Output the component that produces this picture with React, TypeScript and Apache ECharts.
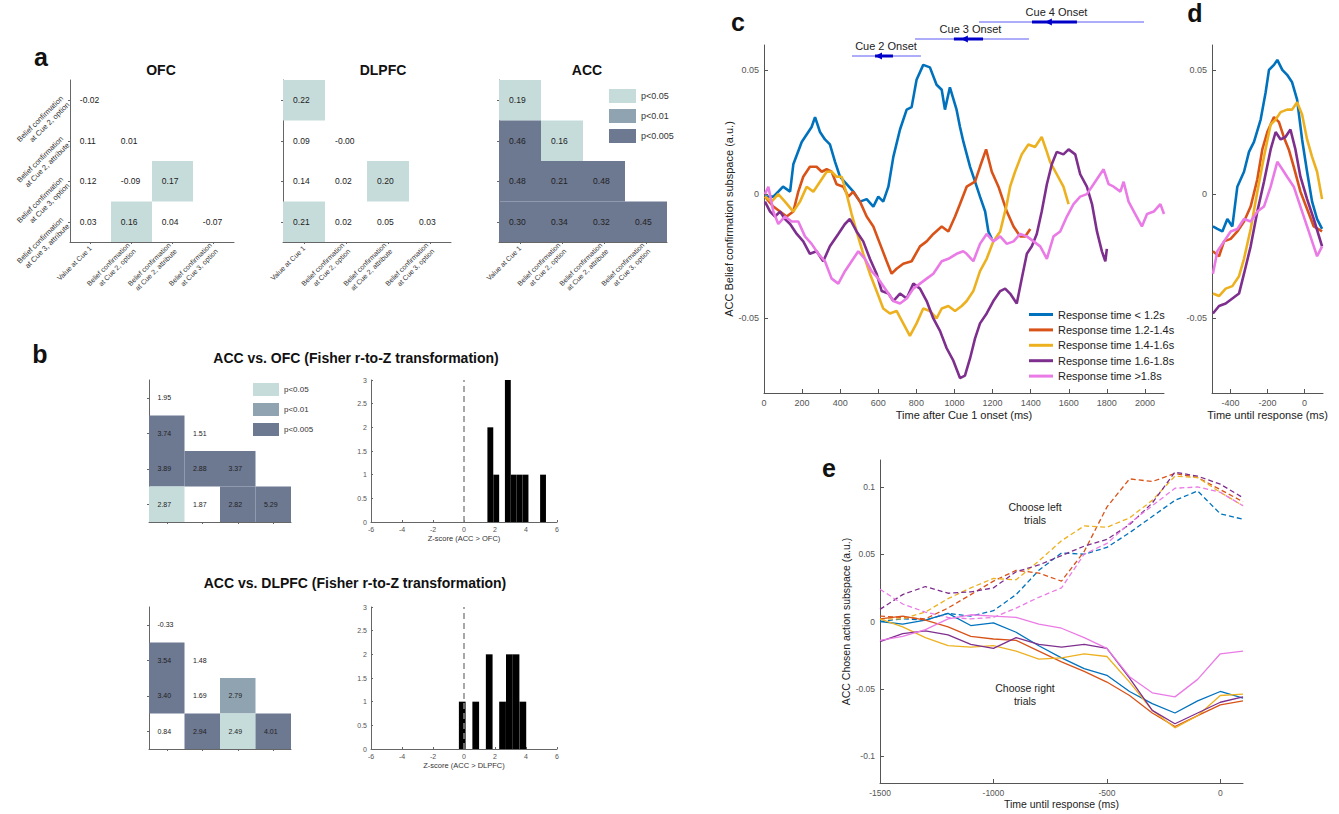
import React, { useEffect, useRef } from 'react';
import * as echarts from 'echarts';

const FONT = "'Liberation Sans', Arial, Helvetica, sans-serif";
const LINE_COLORS = ['#0072BD', '#D95319', '#EDB120', '#7E2F8E', '#EA7BE6'];
const SIG_COLORS = ['none', '#c6dcdb', '#8fa4b0', '#6d7891'];
const SIG_LABELS = ['p<0.05', 'p<0.01', 'p<0.005'];

// ---------- panel a / b heatmaps ----------
const heatXCats = ['Value at Cue 1', 'Belief confirmation\nat Cue 2, option', 'Belief confirmation\nat Cue 2, attribute', 'Belief confirmation\nat Cue 3, option'];
const heatYCats = ['Belief confirmation\nat Cue 2, option', 'Belief confirmation\nat Cue 2, attribute', 'Belief confirmation\nat Cue 3, option', 'Belief confirmation\nat Cue 3, attribute'];

const ofcValues = [[-0.02], [0.11, 0.01], [0.12, -0.09, 0.17], [0.03, 0.16, 0.04, -0.07]];
const ofcSig = [[0], [0, 0], [0, 0, 1], [0, 1, 0, 0]];
const dlpfcValues = [[0.22], [0.09, -0.004], [0.14, 0.02, 0.2], [0.21, 0.02, 0.05, 0.03]];
const dlpfcSig = [[1], [0, 0], [0, 0, 1], [1, 0, 0, 0]];
const accValues = [[0.19], [0.46, 0.16], [0.48, 0.21, 0.48], [0.3, 0.34, 0.32, 0.45]];
const accSig = [[1], [3, 1], [3, 3, 3], [3, 3, 3, 3]];

const zOfcValues = [[1.95], [3.74, 1.51], [3.89, 2.88, 3.37], [2.87, 1.87, 2.82, 5.29]];
const zOfcSig = [[0], [3, 0], [3, 3, 3], [1, 0, 3, 3]];
const zDlValues = [[-0.33], [3.54, 1.48], [3.4, 1.69, 2.79], [0.84, 2.94, 2.49, 4.01]];
const zDlSig = [[0], [3, 0], [3, 0, 2], [0, 3, 1, 3]];

// ---------- panel b histograms ----------
const histOfcLeft = [1.51, 1.89, 2.27, 2.64, 3.02, 3.4, 3.78, 4.16, 4.53, 4.91];
const histOfcCounts = [2, 1, 0, 3, 1, 1, 1, 0, 0, 1];
const histOfcBinWidth = 0.378;
const histDlLeft = [-0.33, 0.1, 0.54, 0.97, 1.41, 1.84, 2.27, 2.71, 3.14, 3.58];
const histDlCounts = [1, 0, 1, 0, 2, 0, 1, 2, 2, 1];
const histDlBinWidth = 0.434;

// ---------- panel c ----------
const cNames = ['Response time < 1.2s', 'Response time 1.2-1.4s', 'Response time 1.4-1.6s', 'Response time 1.6-1.8s', 'Response time >1.8s'];
const cBlue = [[5,-0.001],[49,-0.001],[75,0.001],[100,0.003],[137,0.001],[154,0.012],[198,0.021],[224,0.024],[250,0.027],[268,0.031],[294,0.025],[320,0.022],[346,0.02],[373,0.013],[399,0.007],[434,0.004],[469,0.001],[504,-0.003],[539,-0.002],[574,-0.005],[600,-0.001],[626,-0.003],[653,0.003],[679,0.015],[714,0.026],[749,0.034],[775,0.035],[801,0.046],[836,0.052],[871,0.051],[906,0.044],[933,0.042],[950,0.034],[976,0.043],[1011,0.034],[1029,0.027],[1047,0.021],[1082,0.011],[1108,0.005],[1134,-0.001],[1161,-0.007],[1178,-0.015],[1196,-0.018]];
const cOrange = [[5,-0.001],[49,-0.005],[84,-0.007],[119,-0.009],[154,-0.007],[180,0.001],[206,0.007],[241,0.011],[276,0.011],[303,0.009],[329,0.01],[355,0.009],[381,0.004],[416,0.003],[443,-0.001],[469,0.001],[504,-0.003],[539,-0.009],[574,-0.013],[609,-0.02],[644,-0.027],[670,-0.032],[696,-0.03],[731,-0.028],[775,-0.027],[819,-0.021],[854,-0.019],[889,-0.016],[933,-0.013],[968,-0.015],[1003,-0.009],[1029,-0.004],[1064,0.003],[1108,0.005],[1134,0.011],[1166,0.018],[1196,0.009],[1231,0.003],[1275,-0.007],[1310,-0.013],[1345,-0.017],[1371,-0.017],[1398,-0.014]];
const cYellow = [[5,-0.001],[40,-0.003],[75,0],[110,-0.003],[154,-0.007],[189,-0.003],[224,0.003],[259,0.001],[294,0.005],[329,0.009],[355,0.009],[381,0.007],[408,0.007],[434,0],[460,-0.008],[486,-0.015],[521,-0.024],[556,-0.032],[591,-0.039],[626,-0.046],[661,-0.048],[696,-0.047],[731,-0.052],[766,-0.057],[801,-0.052],[836,-0.046],[871,-0.047],[906,-0.05],[933,-0.046],[968,-0.045],[1003,-0.047],[1038,-0.045],[1064,-0.043],[1099,-0.039],[1134,-0.031],[1169,-0.026],[1204,-0.019],[1240,-0.015],[1275,-0.004],[1292,0.003],[1318,0.009],[1353,0.016],[1388,0.02],[1423,0.019],[1458,0.023],[1485,0.017],[1502,0.013],[1537,0.008],[1572,0.003],[1599,-0.004]];
const cPurple = [[5,-0.003],[32,-0.007],[58,-0.009],[84,-0.007],[110,-0.01],[137,-0.012],[172,-0.016],[206,-0.019],[241,-0.024],[276,-0.023],[311,-0.027],[346,-0.021],[390,-0.016],[425,-0.012],[451,-0.01],[486,-0.015],[521,-0.019],[556,-0.026],[591,-0.032],[618,-0.039],[653,-0.04],[679,-0.043],[714,-0.04],[749,-0.042],[784,-0.036],[819,-0.038],[854,-0.043],[889,-0.05],[924,-0.055],[959,-0.062],[994,-0.067],[1029,-0.074],[1055,-0.073],[1082,-0.066],[1108,-0.058],[1134,-0.052],[1169,-0.048],[1204,-0.043],[1240,-0.039],[1266,-0.038],[1292,-0.04],[1327,-0.044],[1353,-0.034],[1380,-0.024],[1406,-0.021],[1432,-0.016],[1458,-0.007],[1485,0.004],[1511,0.012],[1537,0.017],[1572,0.016],[1599,0.018],[1634,0.016],[1660,0.008],[1695,0.003],[1722,-0.004],[1748,-0.015],[1774,-0.023],[1792,-0.027],[1800,-0.022]];
const cPink = [[5,0],[23,0.003],[49,-0.007],[75,-0.012],[110,-0.009],[145,-0.011],[180,-0.011],[215,-0.017],[250,-0.02],[285,-0.024],[320,-0.027],[355,-0.034],[390,-0.036],[425,-0.031],[460,-0.027],[495,-0.023],[530,-0.026],[565,-0.031],[600,-0.034],[644,-0.039],[679,-0.043],[714,-0.044],[749,-0.042],[784,-0.038],[819,-0.036],[854,-0.034],[889,-0.032],[933,-0.027],[968,-0.026],[1011,-0.024],[1046,-0.023],[1064,-0.024],[1099,-0.027],[1134,-0.02],[1169,-0.016],[1204,-0.019],[1240,-0.017],[1275,-0.02],[1310,-0.019],[1345,-0.016],[1380,-0.017],[1415,-0.019],[1450,-0.021],[1485,-0.026],[1520,-0.017],[1555,-0.015],[1590,-0.009],[1625,-0.004],[1660,-0.001],[1695,0],[1730,0.004],[1765,0.008],[1783,0.01],[1809,0.004],[1836,0.003],[1871,0.001],[1888,0.005],[1914,-0.003],[1949,-0.008],[1984,-0.013],[2011,-0.008],[2046,-0.007],[2081,-0.004],[2100,-0.008]];

// cue onset distributions (ms after Cue 1): min, q1, median, q3, max
const cueNames = ['Cue 2 Onset', 'Cue 3 Onset', 'Cue 4 Onset'];
const cueMin = [462, 793, 1129];
const cueQ1 = [583, 997, 1407];
const cueMed = [609, 1060, 1501];
const cueQ3 = [677, 1150, 1643];
const cueMax = [824, 1391, 1995];

// ---------- panel d ----------
const dBlue = [[-495,-0.013],[-471,-0.014],[-444,-0.015],[-417,-0.01],[-390,-0.013],[-363,0.003],[-327,0.009],[-300,0.017],[-273,0.021],[-237,0.03],[-210,0.041],[-192,0.05],[-165,0.052],[-147,0.054],[-120,0.05],[-94,0.048],[-67,0.045],[-40,0.038],[-13,0.022],[14,0.009],[41,-0.003],[68,-0.01],[95,-0.014]];
const dOrange = [[-495,-0.023],[-462,-0.025],[-435,-0.019],[-399,-0.018],[-363,-0.015],[-327,-0.011],[-291,-0.005],[-255,0.006],[-228,0.018],[-201,0.025],[-165,0.031],[-138,0.029],[-112,0.023],[-85,0.018],[-58,0.011],[-22,0.001],[14,-0.006],[50,-0.013],[95,-0.015]];
const dYellow = [[-495,-0.04],[-462,-0.041],[-426,-0.038],[-390,-0.037],[-354,-0.033],[-327,-0.026],[-291,-0.014],[-255,0.001],[-219,0.015],[-183,0.028],[-156,0.03],[-129,0.033],[-94,0.034],[-67,0.034],[-40,0.037],[-13,0.032],[14,0.022],[41,0.015],[68,0.009],[95,-0.002]];
const dPurple = [[-495,-0.048],[-462,-0.045],[-426,-0.044],[-390,-0.042],[-354,-0.04],[-327,-0.032],[-291,-0.021],[-255,-0.007],[-219,0.005],[-183,0.018],[-156,0.025],[-129,0.022],[-103,0.023],[-76,0.026],[-49,0.018],[-22,0.007],[14,-0.002],[50,-0.01],[95,-0.021]];
const dPink = [[-495,-0.032],[-471,-0.023],[-435,-0.019],[-399,-0.015],[-363,-0.014],[-327,-0.01],[-291,-0.011],[-255,-0.007],[-219,-0.005],[-183,0.003],[-147,0.013],[-120,0.01],[-94,0.007],[-58,0.003],[-22,-0.005],[14,-0.013],[50,-0.021],[68,-0.025],[95,-0.021]];

// ---------- panel e ----------
const eTimes = [-1500,-1400,-1300,-1200,-1100,-1000,-900,-800,-700,-600,-500,-400,-300,-200,-100,0,100];
const eLeftBlue = [0.0,0.002,0.001,0.006,0.004,0.008,0.02,0.038,0.051,0.05,0.055,0.066,0.078,0.09,0.097,0.08,0.076];
const eLeftOrange = [0.004,0.003,0.002,0.01,0.02,0.03,0.038,0.036,0.03,0.052,0.085,0.106,0.104,0.11,0.107,0.098,0.089];
const eLeftYellow = [0.002,0.002,0.007,0.017,0.025,0.032,0.031,0.045,0.06,0.071,0.07,0.077,0.09,0.108,0.107,0.096,0.086];
const eLeftPurple = [0.009,0.02,0.026,0.021,0.022,0.025,0.037,0.042,0.049,0.056,0.061,0.072,0.088,0.111,0.108,0.102,0.092];
const eLeftPink = [0.024,0.013,0.007,0.003,0.002,0.003,0.01,0.018,0.025,0.05,0.058,0.073,0.086,0.099,0.1,0.096,0.086];
const eRightBlue = [0.0,-0.002,0.001,0.006,-0.003,-0.001,-0.008,-0.018,-0.027,-0.035,-0.04,-0.052,-0.061,-0.068,-0.059,-0.052,-0.057];
const eRightOrange = [0.002,0.004,0.001,-0.004,-0.011,-0.013,-0.014,-0.022,-0.03,-0.037,-0.045,-0.055,-0.068,-0.078,-0.07,-0.062,-0.059];
const eRightYellow = [0.002,-0.004,-0.012,-0.018,-0.019,-0.018,-0.022,-0.028,-0.027,-0.024,-0.026,-0.045,-0.066,-0.079,-0.07,-0.055,-0.054];
const eRightPurple = [-0.015,-0.009,-0.007,-0.01,-0.017,-0.02,-0.012,-0.017,-0.019,-0.017,-0.02,-0.042,-0.066,-0.076,-0.068,-0.06,-0.056];
const eRightPink = [-0.014,-0.011,-0.006,0.002,0.005,0.004,0.003,-0.002,-0.005,-0.012,-0.02,-0.041,-0.053,-0.056,-0.043,-0.024,-0.022];

function fmt2(v: number) {
  return v.toFixed(2);
}
const plain = (v: number) => String(v);

function buildOption() {
  const grid: any[] = [];
  const xAxis: any[] = [];
  const yAxis: any[] = [];
  const series: any[] = [];
  const graphic: any[] = [];
  const axisColor = '#555';

  const addHeat = (left: number, top: number, w: number, h: number, values: number[][], sig: number[][], showX: boolean, showY: boolean, fs: number) => {
    const gi = grid.length;
    grid.push({ left, top, width: w, height: h });
    const common = {
      gridIndex: gi,
      type: 'category',
      axisLine: { show: true, onZero: false, lineStyle: { color: '#666', width: 1 } },
      axisTick: { show: true, alignWithLabel: true, length: 2, lineStyle: { color: '#666' } },
      splitLine: { show: false },
    };
    xAxis.push({
      ...common,
      data: heatXCats,
      axisLabel: { show: showX, interval: 0, rotate: 45, fontSize: 7, lineHeight: 8.5, color: '#333', fontFamily: FONT, margin: 5 },
    });
    yAxis.push({
      ...common,
      data: heatYCats,
      inverse: true,
      axisLabel: { show: showY, interval: 0, rotate: 45, fontSize: 7.5, lineHeight: 9, color: '#333', fontFamily: FONT, margin: 5 },
    });
    const data: any[] = [];
    values.forEach((row, r) => row.forEach((v, c) => data.push([c, r, v, sig[r][c]])));
    series.push({
      type: 'custom',
      xAxisIndex: gi,
      yAxisIndex: gi,
      data,
      encode: { x: 0, y: 1 },
      silent: true,
      renderItem: (_p: any, api: any) => {
        const c = api.coord([api.value(0), api.value(1)]);
        const sz = api.size([1, 1]);
        const cw = Math.abs(sz[0]);
        const ch = Math.abs(sz[1]);
        const s = api.value(3);
        const children: any[] = [];
        if (s > 0) {
          children.push({ type: 'rect', shape: { x: c[0] - cw / 2, y: c[1] - ch / 2, width: cw, height: ch }, style: { fill: SIG_COLORS[s] } });
        }
        children.push({
          type: 'text',
          x: c[0] - cw / 2 + cw * 0.24,
          y: c[1],
          style: { text: fmt2(api.value(2)), align: 'left', verticalAlign: 'middle', fontSize: fs, fill: '#222', fontFamily: FONT },
        });
        return { type: 'group', children };
      },
    });
  };

  const addHist = (left: number, top: number, w: number, h: number, lefts: number[], counts: number[], binW: number, xName: string) => {
    const gi = grid.length;
    grid.push({ left, top, width: w, height: h });
    xAxis.push({
      type: 'value', gridIndex: gi, min: -6, max: 6, interval: 2,
      name: xName, nameLocation: 'middle', nameGap: 12,
      nameTextStyle: { fontSize: 7.5, color: '#333', fontFamily: FONT },
      axisLine: { show: true, onZero: false, lineStyle: { color: '#666' } },
      axisTick: { show: true, inside: true, length: 2, lineStyle: { color: '#666' } },
      axisLabel: { fontSize: 7, color: '#555', margin: 4, fontFamily: FONT, formatter: plain },
      splitLine: { show: false },
    });
    yAxis.push({
      type: 'value', gridIndex: gi, min: 0, max: 3, interval: 0.5,
      axisLine: { show: true, onZero: false, lineStyle: { color: '#666' } },
      axisTick: { show: true, inside: true, length: 2, lineStyle: { color: '#666' } },
      axisLabel: { fontSize: 7, color: '#555', margin: 4, fontFamily: FONT, formatter: plain },
      splitLine: { show: false },
    });
    const data = lefts.map((l, i) => [l, l + binW, counts[i]]).filter((d) => d[2] > 0);
    series.push({
      type: 'custom', xAxisIndex: gi, yAxisIndex: gi, data, silent: true,
      encode: { x: [0, 1], y: 2 },
      renderItem: (_p: any, api: any) => {
        const a = api.coord([api.value(0), api.value(2)]);
        const b = api.coord([api.value(1), 0]);
        return { type: 'rect', shape: { x: a[0], y: a[1], width: b[0] - a[0], height: b[1] - a[1] }, style: { fill: '#000' } };
      },
    });
    series.push({
      type: 'line', xAxisIndex: gi, yAxisIndex: gi, data: [[0, 0], [0, 3]], symbol: 'none', silent: true,
      lineStyle: { color: '#8a8a8a', width: 1.5, type: [6, 4] },
    });
  };

  // ---- panel a ----
  addHeat(70, 80, 164, 162, ofcValues, ofcSig, true, true, 8.5);
  addHeat(283, 80, 168, 162, dlpfcValues, dlpfcSig, true, false, 8.5);
  addHeat(499, 80, 168, 162, accValues, accSig, true, false, 8.5);
  // ---- panel b ----
  addHeat(149, 380, 142, 142, zOfcValues, zOfcSig, false, false, 7);
  addHeat(149, 607, 142, 142, zDlValues, zDlSig, false, false, 7);
  addHist(371, 380, 186, 142, histOfcLeft, histOfcCounts, histOfcBinWidth, 'Z-score (ACC > OFC)');
  addHist(371, 607, 186, 142, histDlLeft, histDlCounts, histDlBinWidth, 'Z-score (ACC > DLPFC)');

  const valAxisBase = {
    axisLine: { show: true, onZero: false, lineStyle: { color: axisColor, width: 1 } },
    splitLine: { show: false },
  };

  // ---- panel c ----
  const gc = grid.length;
  grid.push({ left: 764, top: 45, width: 400, height: 348 });
  xAxis.push({
    ...valAxisBase, type: 'value', gridIndex: gc, min: 0, max: 2100, interval: 200,
    axisTick: { show: true, inside: true, length: 4, lineStyle: { color: axisColor } },
    axisLabel: { fontSize: 9, color: '#555', margin: 5, fontFamily: FONT, showMaxLabel: false, formatter: plain },
    name: 'Time after Cue 1 onset (ms)', nameLocation: 'middle', nameGap: 16,
    nameTextStyle: { fontSize: 11, color: '#222', fontFamily: FONT },
  });
  yAxis.push({
    ...valAxisBase, type: 'value', gridIndex: gc, min: -0.08, max: 0.06,
    axisTick: { show: true, inside: true, length: 4, lineStyle: { color: axisColor }, customValues: [-0.05, 0, 0.05] },
    axisLabel: { fontSize: 9, color: '#555', margin: 5, fontFamily: FONT, customValues: [-0.05, 0, 0.05], formatter: plain },
    name: 'ACC Belief confirmation subspace (a.u.)', nameLocation: 'middle', nameGap: 28,
    nameTextStyle: { fontSize: 11, color: '#222', fontFamily: FONT },
  });
  [cBlue, cOrange, cYellow, cPurple, cPink].forEach((d, i) => {
    series.push({
      type: 'line', name: cNames[i], xAxisIndex: gc, yAxisIndex: gc, data: d, symbol: 'none', silent: true,
      lineStyle: { color: LINE_COLORS[i], width: 2.6 }, itemStyle: { color: LINE_COLORS[i] },
    });
  });

  // cue onset annotation strip above panel c
  const gq = grid.length;
  grid.push({ left: 764, top: 5, width: 400, height: 68 });
  xAxis.push({ type: 'value', gridIndex: gq, min: 0, max: 2100, show: false });
  yAxis.push({ type: 'value', gridIndex: gq, min: 0, max: 4, show: false });
  series.push({
    type: 'custom', xAxisIndex: gq, yAxisIndex: gq, silent: true,
    data: cueNames.map((_n, i) => [cueMin[i], cueQ1[i], cueMed[i], cueQ3[i], cueMax[i], i + 1, i]),
    encode: { x: [0, 4], y: 5 },
    renderItem: (_p: any, api: any) => {
      const lvl = api.value(5);
      const pMin = api.coord([api.value(0), lvl]);
      const pQ1 = api.coord([api.value(1), lvl]);
      const pMed = api.coord([api.value(2), lvl]);
      const pQ3 = api.coord([api.value(3), lvl]);
      const pMax = api.coord([api.value(4), lvl]);
      const y = pMin[1];
      return {
        type: 'group',
        children: [
          { type: 'line', shape: { x1: pMin[0], y1: y, x2: pMax[0], y2: y }, style: { stroke: '#5b5bf5', lineWidth: 1 } },
          { type: 'line', shape: { x1: pQ1[0], y1: y, x2: pQ3[0], y2: y }, style: { stroke: '#0000c8', lineWidth: 3 } },
          { type: 'polygon', shape: { points: [[pMed[0] - 5, y], [pMed[0] + 2, y - 3.5], [pMed[0] + 2, y + 3.5]] }, style: { fill: '#0000c8' } },
          {
            type: 'text', x: (pQ1[0] + pQ3[0]) / 2 + 2, y: y - 10,
            style: { text: cueNames[api.value(6)], align: 'center', verticalAlign: 'middle', fontSize: 11, fill: '#222', fontFamily: FONT },
          },
        ],
      };
    },
  });

  // ---- panel d ----
  const gd = grid.length;
  grid.push({ left: 1212, top: 45, width: 111, height: 348 });
  xAxis.push({
    ...valAxisBase, type: 'value', gridIndex: gd, min: -500, max: 100,
    axisTick: { show: true, inside: true, length: 4, lineStyle: { color: axisColor }, customValues: [-400, -200, 0] },
    axisLabel: { fontSize: 9, color: '#555', margin: 5, fontFamily: FONT, customValues: [-400, -200, 0], formatter: plain },
    name: 'Time until response (ms)', nameLocation: 'middle', nameGap: 16,
    nameTextStyle: { fontSize: 11, color: '#222', fontFamily: FONT },
  });
  yAxis.push({
    ...valAxisBase, type: 'value', gridIndex: gd, min: -0.08, max: 0.06,
    axisTick: { show: true, inside: true, length: 4, lineStyle: { color: axisColor }, customValues: [-0.05, 0, 0.05] },
    axisLabel: { fontSize: 9, color: '#555', margin: 5, fontFamily: FONT, customValues: [-0.05, 0, 0.05], formatter: plain },
  });
  [dBlue, dOrange, dYellow, dPurple, dPink].forEach((d, i) => {
    series.push({
      type: 'line', name: 'd-' + i, xAxisIndex: gd, yAxisIndex: gd, data: d, symbol: 'none', silent: true,
      lineStyle: { color: LINE_COLORS[i], width: 2.6 }, itemStyle: { color: LINE_COLORS[i] },
    });
  });

  // ---- panel e ----
  const ge = grid.length;
  grid.push({ left: 880, top: 460, width: 363, height: 323 });
  xAxis.push({
    ...valAxisBase, type: 'value', gridIndex: ge, min: -1500, max: 100, interval: 500,
    axisTick: { show: true, inside: true, length: 4, lineStyle: { color: axisColor } },
    axisLabel: { fontSize: 8.5, color: '#555', margin: 5, fontFamily: FONT, showMaxLabel: false, formatter: plain },
    name: 'Time until response (ms)', nameLocation: 'middle', nameGap: 15,
    nameTextStyle: { fontSize: 10.5, color: '#222', fontFamily: FONT },
  });
  yAxis.push({
    ...valAxisBase, type: 'value', gridIndex: ge, min: -0.12, max: 0.12,
    axisTick: { show: true, inside: true, length: 4, lineStyle: { color: axisColor }, customValues: [-0.1, -0.05, 0, 0.05, 0.1] },
    axisLabel: { fontSize: 8.5, color: '#555', margin: 5, fontFamily: FONT, customValues: [-0.1, -0.05, 0, 0.05, 0.1], formatter: plain },
    name: 'ACC Chosen action subspace (a.u.)', nameLocation: 'middle', nameGap: 26,
    nameTextStyle: { fontSize: 10.5, color: '#222', fontFamily: FONT },
  });
  const eLeft = [eLeftBlue, eLeftOrange, eLeftYellow, eLeftPurple, eLeftPink];
  const eRight = [eRightBlue, eRightOrange, eRightYellow, eRightPurple, eRightPink];
  eLeft.forEach((ys, i) => {
    series.push({
      type: 'line', name: 'e-left-' + i, xAxisIndex: ge, yAxisIndex: ge, symbol: 'none', silent: true,
      data: eTimes.map((t, k) => [t, ys[k]]),
      lineStyle: { color: LINE_COLORS[i], width: 1.3, type: [5, 3] }, itemStyle: { color: LINE_COLORS[i] },
    });
  });
  eRight.forEach((ys, i) => {
    series.push({
      type: 'line', name: 'e-right-' + i, xAxisIndex: ge, yAxisIndex: ge, symbol: 'none', silent: true,
      data: eTimes.map((t, k) => [t, ys[k]]),
      lineStyle: { color: LINE_COLORS[i], width: 1.3 }, itemStyle: { color: LINE_COLORS[i] },
    });
  });

  // ---- graphic texts ----
  const letter = (t: string, x: number, y: number) => ({
    type: 'text', x, y, style: { text: t, align: 'center', verticalAlign: 'middle', fontSize: 25, fontWeight: 'bold', fill: '#111', fontFamily: FONT },
  });
  const title = (t: string, x: number, y: number) => ({
    type: 'text', x, y, style: { text: t, align: 'center', verticalAlign: 'middle', fontSize: 14, fontWeight: 'bold', fill: '#111', fontFamily: FONT },
  });
  graphic.push(letter('a', 41, 57), letter('b', 40, 354), letter('c', 738, 22), letter('d', 1195, 13), letter('e', 829, 468));
  graphic.push(title('OFC', 161, 70), title('DLPFC', 383, 70), title('ACC', 587, 70));
  graphic.push(title('ACC vs. OFC (Fisher r-to-Z transformation)', 356, 358), title('ACC vs. DLPFC (Fisher r-to-Z transformation)', 355, 583));

  const sigLegend = (x: number, y0: number, bw: number, bh: number, step: number, fs: number) => {
    SIG_LABELS.forEach((lab, i) => {
      graphic.push({ type: 'rect', shape: { x, y: y0 + i * step, width: bw, height: bh }, style: { fill: SIG_COLORS[i + 1] } });
      graphic.push({
        type: 'text', x: x + bw + 5, y: y0 + i * step + bh / 2,
        style: { text: lab, align: 'left', verticalAlign: 'middle', fontSize: fs, fill: '#333', fontFamily: FONT },
      });
    });
  };
  sigLegend(609, 89, 27, 14, 20, 9);
  sigLegend(253, 383, 26, 13, 20, 8);

  graphic.push({
    type: 'text', x: 1035, y: 513,
    style: { text: 'Choose left\ntrials', align: 'center', verticalAlign: 'middle', fontSize: 10.5, lineHeight: 13, fill: '#222', fontFamily: FONT },
  });
  graphic.push({
    type: 'text', x: 1025, y: 694,
    style: { text: 'Choose right\ntrials', align: 'center', verticalAlign: 'middle', fontSize: 10.5, lineHeight: 13, fill: '#222', fontFamily: FONT },
  });

  return {
    animation: false,
    backgroundColor: '#fff',
    textStyle: { fontFamily: FONT },
    legend: {
      data: cNames,
      orient: 'vertical',
      left: 1024,
      top: 304,
      icon: 'rect',
      itemWidth: 24,
      itemHeight: 3,
      itemGap: 4.4,
      selectedMode: false,
      textStyle: { fontSize: 11, color: '#222', fontFamily: FONT },
    },
    grid,
    xAxis,
    yAxis,
    series,
    graphic,
  };
}

export default function App() {
  const ref = useRef<HTMLDivElement>(null);
  useEffect(() => {
    if (!ref.current) return;
    const chart = echarts.init(ref.current, null, { renderer: 'svg' });
    chart.setOption(buildOption() as any);
    return () => chart.dispose();
  }, []);
  return <div ref={ref} style={{ position: 'absolute', left: 0, top: 0, width: 1339, height: 814, background: '#fff' }} />;
}
